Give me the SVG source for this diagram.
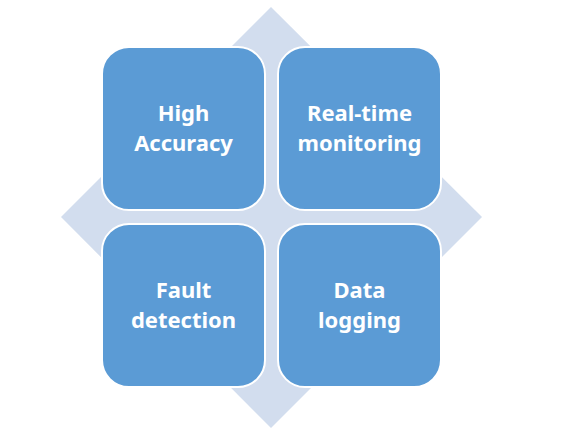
<svg xmlns="http://www.w3.org/2000/svg" width="562" height="431" viewBox="0 0 562 431">
<style>
.box{fill:#5B9BD5;stroke:#FFFFFF;stroke-width:2}
.t{font-family:"Noto Sans","Open Sans",sans-serif;font-weight:bold;font-size:22px;fill:#FFFFFF;text-anchor:middle}
</style>
<rect width="562" height="431" fill="#FFFFFF"/>
<polygon points="271,7 482,217 271,428 61,217" fill="#D2DDEE"/>
<g id="high-accuracy">
<rect class="box" x="102" y="47" width="163" height="163" rx="27"/>
<text class="t" x="183.5" y="121">High</text>
<text class="t" x="183.5" y="151">Accuracy</text>
</g>
<g id="real-time-monitoring">
<rect class="box" x="278" y="47" width="163" height="163" rx="27"/>
<text class="t" x="359.5" y="121">Real-time</text>
<text class="t" x="359.5" y="151">monitoring</text>
</g>
<g id="fault-detection">
<rect class="box" x="102" y="224" width="163" height="163" rx="27"/>
<text class="t" x="183.5" y="298">Fault</text>
<text class="t" x="183.5" y="328">detection</text>
</g>
<g id="data-logging">
<rect class="box" x="278" y="224" width="163" height="163" rx="27"/>
<text class="t" x="359.5" y="298">Data</text>
<text class="t" x="359.5" y="328">logging</text>
</g>
<g id="connectors"></g>
</svg>
